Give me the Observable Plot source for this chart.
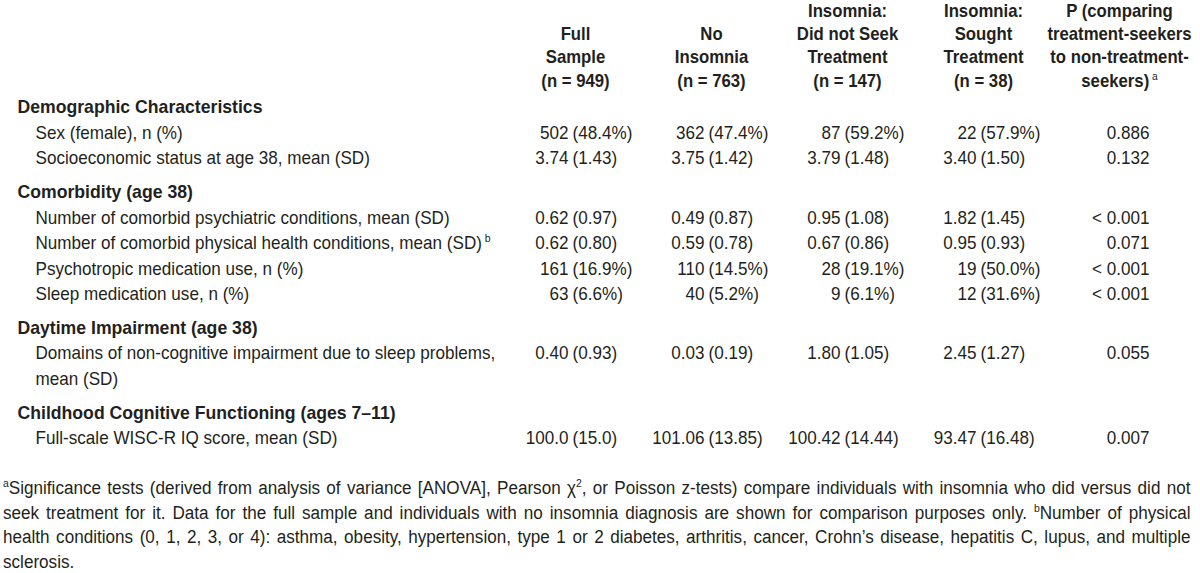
<!DOCTYPE html>
<html><head><meta charset="utf-8">
<script src="https://cdn.jsdelivr.net/npm/d3@7"></script>
<script src="https://cdn.jsdelivr.net/npm/@observablehq/plot@0.6"></script>
<style>
body{margin:0;background:#fff;overflow:hidden;}
#chart{width:1200px;}
.foot{font-family:"Liberation Sans",Arial,sans-serif;font-size:18px;color:#231f20;margin:2px 0 0 3px;line-height:24.5px;}
.foot div{width:1250px;transform:scaleX(0.95);transform-origin:0 0;text-align:justify;text-align-last:justify;white-space:nowrap;}
.foot div.last{text-align-last:left;}
.foot sup{font-size:11px;vertical-align:7px;line-height:0;}
</style></head><body><div id="chart"></div><script>
// ---- data ----
const columnKeys = ["full", "none", "noSeek", "sought", "p"];
const columnHeaders = [
  "Full\nSample\n(n = 949)",
  "No\nInsomnia\n(n = 763)",
  "Insomnia:\nDid not Seek\nTreatment\n(n = 147)",
  "Insomnia:\nSought\nTreatment\n(n = 38)",
  "P (comparing\ntreatment-seekers\nto non-treatment-\nseekers)^a"
];
const sections = [
  "Demographic Characteristics",
  "Comorbidity (age 38)",
  "Daytime Impairment (age 38)",
  "Childhood Cognitive Functioning (ages 7–11)"
];
const variableLabels = [
  "Sex (female), n (%)",
  "Socioeconomic status at age 38, mean (SD)",
  "Number of comorbid psychiatric conditions, mean (SD)",
  "Number of comorbid physical health conditions, mean (SD)^b",
  "Psychotropic medication use, n (%)",
  "Sleep medication use, n (%)",
  "Domains of non-cognitive impairment due to sleep problems,\nmean (SD)",
  "Full-scale WISC-R IQ score, mean (SD)"
];
const variableSection = [0, 0, 1, 1, 1, 1, 2, 3];
const fullSample = ["502 (48.4%)", "3.74 (1.43)", "0.62 (0.97)", "0.62 (0.80)", "161 (16.9%)", "63 (6.6%)", "0.40 (0.93)", "100.0 (15.0)"];
const noInsomnia = ["362 (47.4%)", "3.75 (1.42)", "0.49 (0.87)", "0.59 (0.78)", "110 (14.5%)", "40 (5.2%)", "0.03 (0.19)", "101.06 (13.85)"];
const didNotSeek = ["87 (59.2%)", "3.79 (1.48)", "0.95 (1.08)", "0.67 (0.86)", "28 (19.1%)", "9 (6.1%)", "1.80 (1.05)", "100.42 (14.44)"];
const soughtTreatment = ["22 (57.9%)", "3.40 (1.50)", "1.82 (1.45)", "0.95 (0.93)", "19 (50.0%)", "12 (31.6%)", "2.45 (1.27)", "93.47 (16.48)"];
const pValues = ["0.886", "0.132", "< 0.001", "0.071", "< 0.001", "< 0.001", "0.055", "0.007"];
const footnoteLines = [
  "^aSignificance tests (derived from analysis of variance [ANOVA], Pearson χ^2, or Poisson z-tests) compare individuals with insomnia who did versus did not",
  "seek treatment for it. Data for the full sample and individuals with no insomnia diagnosis are shown for comparison purposes only. ^bNumber of physical",
  "health conditions (0, 1, 2, 3, or 4): asthma, obesity, hypertension, type 1 or 2 diabetes, arthritis, cancer, Crohn’s disease, hepatitis C, lupus, and multiple",
  "sclerosis."
];

// ---- layout table built from the data ----
const GAP = 0.325; // extra space before each section, in row units
const valueColumns = [fullSample, noInsomnia, didNotSeek, soughtTreatment];
const labelLines = [], cells = [], pCells = [];
let idx = 0;
sections.forEach((s, si) => {
  labelLines.push({line: idx + GAP * si, text: s, kind: "section"});
  idx++;
  variableLabels.forEach((lab, vi) => {
    if (variableSection[vi] !== si) return;
    const row = idx + GAP * si;
    lab.split("\n").forEach(part => {
      labelLines.push({line: idx + GAP * si, text: part, kind: "item"});
      idx++;
    });
    valueColumns.forEach((arr, ci) => {
      const v = arr[vi];
      const k = v.indexOf(" (");
      cells.push({col: columnKeys[ci], line: row, left: v.slice(0, k), right: v.slice(k + 1)});
    });
    pCells.push({col: "p", line: row, text: pValues[vi]});
  });
});
const maxLine = idx - 1 + GAP * (sections.length - 1);

const FONT = '"Liberation Sans",Arial,sans-serif';
const FS = 18;
const chart = Plot.plot({
  width: 1200,
  height: 474,
  margin: 0,
  style: {fontFamily: FONT, fontSize: FS + "px", color: "#231f20", background: "#fff"},
  x: {type: "point", domain: columnKeys, range: [573, 1120], padding: 0, axis: null},
  y: {domain: [0, maxLine], range: [107, 438], axis: null},
  marks: [
    Plot.text(columnHeaders, {x: (d, i) => columnKeys[i], text: d => d, frameAnchor: "top", lineAnchor: "bottom", dy: 86, fontWeight: "bold", lineHeight: 1.29, fontSize: FS, className: "hdr"}),
    Plot.text(labelLines.filter(d => d.kind === "section"), {y: "line", text: "text", frameAnchor: "left", textAnchor: "start", dx: 17, fontWeight: "bold", fontSize: FS, className: "sec"}),
    Plot.text(labelLines.filter(d => d.kind === "item"), {y: "line", text: "text", frameAnchor: "left", textAnchor: "start", dx: 35, fontSize: FS}),
    Plot.text(cells, {x: "col", y: "line", text: "left", textAnchor: "end", dx: -7, fontSize: FS}),
    Plot.text(cells, {x: "col", y: "line", text: "right", textAnchor: "start", dx: -3, fontSize: FS}),
    Plot.text(pCells, {x: "col", y: "line", text: "text", textAnchor: "end", dx: 30, fontSize: FS})
  ]
});

// superscripts marked with ^x
chart.querySelectorAll("text, tspan").forEach(el => {
  if (el.children.length) return;
  const m = el.textContent.match(/^([\s\S]*)\^([a-z0-9])$/);
  if (!m) return;
  el.textContent = m[1];
  const sup = document.createElementNS("http://www.w3.org/2000/svg", "tspan");
  sup.setAttribute("font-size", "11");
  sup.setAttribute("font-weight", "normal");
  sup.setAttribute("dx", "3");
  sup.setAttribute("dy", "-7");
  sup.textContent = m[2];
  el.appendChild(sup);
});
// slightly condensed type: narrow each text horizontally around its own anchor
chart.querySelectorAll("g").forEach(g => {
  const cls = g.getAttribute("class") || "";
  const s = cls.includes("hdr") ? 0.93 : cls.includes("sec") ? 0.98 : 0.95;
  g.querySelectorAll(":scope > text").forEach(t => {
    t.setAttribute("transform", (t.getAttribute("transform") || "") + ` scale(${s},1)`);
  });
});

const root = document.getElementById("chart");
root.appendChild(chart);
const foot = document.createElement("div");
foot.className = "foot";
footnoteLines.forEach((ln, i) => {
  const d = document.createElement("div");
  if (i === footnoteLines.length - 1) d.className = "last";
  d.innerHTML = ln.replace(/\^(\w)/g, "<sup>$1</sup>");
  foot.appendChild(d);
});
root.appendChild(foot);
</script></body></html>
